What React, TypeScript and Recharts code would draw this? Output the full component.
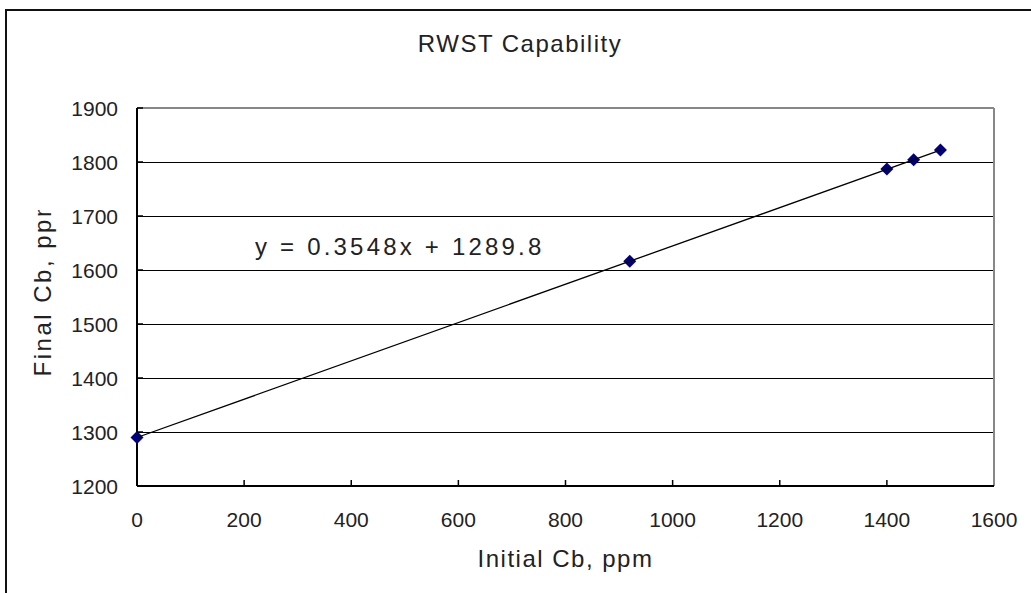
import {
  CartesianGrid,
  ReferenceLine,
  Scatter,
  ScatterChart,
  XAxis,
  YAxis,
} from "recharts";

// measured points
const initialCb = [0, 920, 1400, 1450, 1500];
const finalCb = [1290, 1616, 1787, 1804, 1822];

// linear trendline y = 0.3548x + 1289.8, end points
const trendX = [0, 1500];
const trendY = [1289.8, 1822.0];

const xTicks = [0, 200, 400, 600, 800, 1000, 1200, 1400, 1600];
const yTicks = [1200, 1300, 1400, 1500, 1600, 1700, 1800, 1900];

const points = initialCb.map((x, i) => ({ x, y: finalCb[i] }));
const trend = trendX.map((x, i) => ({ x, y: trendY[i] }));

const FONT = "'Liberation Sans', Arial, sans-serif";
const INK = "#222";

const Diamond = (props: any) => {
  const { cx, cy } = props;
  const r = 6.5;
  return (
    <polygon
      points={`${cx},${cy - r} ${cx + r},${cy} ${cx},${cy + r} ${cx - r},${cy}`}
      fill="#000080"
    />
  );
};

const XTick = (props: any) => {
  const { x, y, payload } = props;
  return (
    <g>
      {payload.value !== 0 && payload.value !== 1600 && (
        <line x1={x} x2={x} y1={y - 6} y2={y} stroke="#000" strokeWidth={1.5} />
      )}
      <text
        x={x}
        y={y + 41}
        textAnchor="middle"
        fontSize={21}
        fill={INK}
        fontFamily={FONT}
      >
        {payload.value}
      </text>
    </g>
  );
};

const YTick = (props: any) => {
  const { x, y, payload } = props;
  return (
    <g>
      <line x1={x} x2={x + 6} y1={y} y2={y} stroke="#000" strokeWidth={1.5} />
      <text
        x={x - 19}
        y={y + 8}
        textAnchor="end"
        fontSize={21}
        fill={INK}
        fontFamily={FONT}
      >
        {payload.value}
      </text>
    </g>
  );
};

const XLabel = (props: any) => {
  const vb = props.viewBox;
  return (
    <text
      x={vb.x + vb.width / 2}
      y={vb.y + 81}
      textAnchor="middle"
      fontSize={24}
      fill={INK}
      fontFamily={FONT}
      letterSpacing={1.5}
    >
      Initial Cb, ppm
    </text>
  );
};

// Excel cut the rotated title at the top, keep that look with a clip
const YLabel = (props: any) => {
  const vb = props.viewBox;
  const cx = 51;
  const cy = vb.y + vb.height / 2 - 11.5;
  return (
    <g>
      <defs>
        <clipPath id="ylabel-clip">
          <rect x={0} y={210} width={137} height={383} />
        </clipPath>
      </defs>
      <g clipPath="url(#ylabel-clip)">
        <text
          x={cx}
          y={cy}
          transform={`rotate(-90 ${cx} ${cy})`}
          textAnchor="middle"
          fontSize={24}
          fill={INK}
          fontFamily={FONT}
          letterSpacing={2.5}
        >
          Final Cb, ppm
        </text>
      </g>
    </g>
  );
};

export default function App() {
  return (
    <div
      style={{
        position: "absolute",
        left: 0,
        top: 0,
        width: 1031,
        height: 593,
        overflow: "hidden",
        background: "#fff",
      }}
    >
      <ScatterChart
        width={1031}
        height={593}
        margin={{ top: 108, right: 37, bottom: 47, left: 0 }}
        style={{ position: "absolute", left: 0, top: 0 }}
      >
        <CartesianGrid
          vertical={false}
          stroke="#000"
          strokeWidth={1}
          shapeRendering="crispEdges"
        />
        <XAxis
          type="number"
          dataKey="x"
          domain={[0, 1600]}
          ticks={xTicks}
          height={60}
          tickSize={0}
          tickMargin={0}
          tickLine={false}
          axisLine={{ stroke: "#000", strokeWidth: 2 }}
          tick={<XTick />}
          interval={0}
          label={{ content: XLabel }}
        />
        <YAxis
          type="number"
          dataKey="y"
          domain={[1200, 1900]}
          ticks={yTicks}
          width={137}
          tickSize={0}
          tickMargin={0}
          tickLine={false}
          axisLine={{ stroke: "#000", strokeWidth: 2 }}
          tick={<YTick />}
          interval={0}
          label={{ content: YLabel }}
        />
        <ReferenceLine y={1900} stroke="#888" strokeWidth={2} />
        <ReferenceLine x={1600} stroke="#888" strokeWidth={2} />
        <Scatter
          data={points}
          shape={<Diamond />}
          isAnimationActive={false}
        />
        <Scatter
          data={trend}
          line={{ stroke: "#000", strokeWidth: 1.3 }}
          shape={() => <g />}
          isAnimationActive={false}
        />
      </ScatterChart>
      <svg
        width={1031}
        height={593}
        style={{ position: "absolute", left: 0, top: 0, pointerEvents: "none" }}
      >
        <path d="M6 600 L6 10 L1040 10" fill="none" stroke="#111" strokeWidth={2} />
        <text
          x={520}
          y={52}
          textAnchor="middle"
          fontSize={24}
          fill={INK}
          fontFamily={FONT}
          letterSpacing={1.5}
        >
          RWST Capability
        </text>
        <text
          x={255}
          y={255}
          fontSize={24}
          fill={INK}
          fontFamily={FONT}
          letterSpacing={3.2}
        >
          y = 0.3548x + 1289.8
        </text>
      </svg>
    </div>
  );
}
